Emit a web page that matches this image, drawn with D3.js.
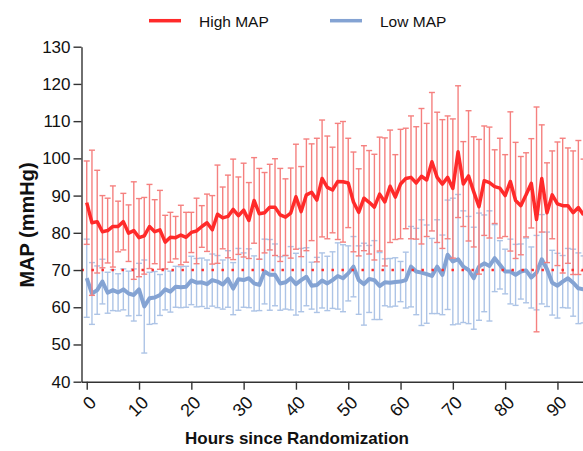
<!DOCTYPE html>
<html><head><meta charset="utf-8">
<script src="https://cdn.jsdelivr.net/npm/d3@7/dist/d3.min.js"></script>
<style>body{margin:0;background:#fff}svg{display:block;font-family:"Liberation Sans",Arial,sans-serif}</style>
</head><body><svg id="c" width="583" height="451"></svg>
<script>
const hours = d3.range(0, 96);
const xTicks = [0,10,20,30,40,50,60,70,80,90];
const yTicks = [40,50,60,70,80,90,100,110,120,130];
const seriesNames = ["High MAP","Low MAP"];
const targetMAP = 70;
const redMean = [88.1,82.7,83.0,80.3,80.6,81.7,81.7,83.0,79.9,80.6,78.7,79.2,81.7,80.3,80.8,77.5,78.8,78.7,79.4,78.8,
80.1,80.5,81.7,82.7,80.8,85.0,84.0,84.4,86.3,84.6,86.1,83.3,88.7,85.1,85.4,86.9,86.9,84.8,84.2,85.3,
89.7,85.7,90.2,90.9,88.8,94.6,92.2,91.5,93.8,93.7,93.4,88.3,85.5,89.3,88.2,86.9,90.4,88.3,92.5,89.6,
93.1,94.6,94.9,93.4,95.2,94.2,99.1,94.9,93.1,94.9,91.9,101.8,93.1,95.3,91.0,87.0,94.0,93.5,92.4,92.0,
90.0,93.8,88.7,87.3,90.2,93.3,83.6,94.6,85.4,90.2,87.8,87.3,87.3,85.4,86.8,84.8];
const redSD = [11.2,19.5,13.8,9.7,8.7,10.9,6.8,7.6,7.6,13.1,10.5,10.3,11.3,8.6,10.6,7.2,6.7,5.7,8.0,6.7,
5.4,8.8,5.6,7.7,9.2,13.2,8.3,11.1,13.5,10.4,12.6,10.2,11.5,12.2,10.8,11.5,13.0,12.5,10.3,12.1,
14.1,12.1,15.0,13.0,16.6,15.7,13.8,11.5,15.6,16.2,12.0,13.4,11.7,14.1,13.9,14.2,15.3,17.2,15.1,11.4,
14.7,13.5,16.5,15.1,18.2,15.2,18.6,17.5,17.3,16.5,18.7,17.7,11.4,17.5,14.8,18.1,14.7,14.9,9.9,13.4,
11.0,18.7,15.6,13.2,11.3,12.0,30.2,14.4,13.4,11.8,16.6,18.1,15.5,16.6,18.0,15.0];
const blueMean = [67.8,63.7,64.6,66.9,63.9,64.6,64.0,64.8,63.7,63.3,64.8,60.2,62.4,62.6,63.3,64.8,64.2,65.5,65.4,65.5,
67.2,66.6,66.7,66.2,67.3,66.9,66.1,67.6,65.0,67.5,67.3,67.8,66.4,66.0,69.6,68.7,68.7,66.4,66.7,67.8,
66.2,67.3,68.2,65.8,66.0,67.2,66.4,67.3,68.4,67.8,69.1,70.9,67.3,66.2,67.6,67.3,65.7,66.7,66.6,66.8,
66.9,67.3,70.9,69.6,69.3,68.9,68.4,70.9,68.7,74.1,72.3,72.9,70.9,70.0,67.8,70.9,71.8,71.1,73.2,71.4,
69.6,69.6,68.7,69.6,69.9,68.0,69.3,72.9,70.2,66.6,65.8,66.9,67.8,66.6,65.1,64.8];
const blueSD = [10.5,8.3,6.5,6.0,5.5,5.5,5.0,5.5,6.0,7.0,7.0,12.5,7.0,7.0,5.5,5.5,5.5,5.5,5.5,5.5,
6.5,6.5,6.5,6.5,7.0,7.0,6.6,7.6,7.0,8.3,7.3,7.9,7.4,6.9,8.7,9.5,8.3,7.2,7.2,8.5,
8.3,8.5,7.8,6.3,7.4,7.4,7.3,7.6,8.9,9.0,7.4,8.1,9.2,11.0,9.0,10.6,9.0,6.3,6.5,6.5,
5.4,7.5,10.8,11.6,14.2,13.2,10.1,12.6,10.7,14.7,17.0,17.4,15.0,14.4,13.7,14.4,13.0,14.8,9.0,6.5,
6.0,8.7,8.2,7.4,8.7,8.2,10.0,12.0,10.0,8.7,8.7,7.0,8.0,9.0,9.5,9.0];

const RED = "#ff2a2a", RED_BAR = "#f5807f", BLUE = "#84a3d3", BLUE_BAR = "#adc4e6", AXIS = "#333";
const svg = d3.select("#c");
const x = d3.scaleLinear().domain([-1, 95]).range([81.5, 583.6]);
const y = d3.scaleLinear().domain([40, 130]).range([381.7, 46.7]);

function errorBars(mean, sd, color) {
  const g = svg.append("g").attr("stroke", color).attr("stroke-width", 1.4).attr("fill", "none");
  hours.forEach(h => {
    const lo = mean[h] - sd[h], hi = mean[h] + sd[h], cx = x(h);
    g.append("line").attr("x1", cx).attr("x2", cx).attr("y1", y(lo)).attr("y2", y(hi));
    g.append("line").attr("x1", cx - 3).attr("x2", cx + 3).attr("y1", y(hi)).attr("y2", y(hi));
    g.append("line").attr("x1", cx - 3).attr("x2", cx + 3).attr("y1", y(lo)).attr("y2", y(lo));
  });
}
const line = arr => d3.line().x(h => x(h)).y(h => y(arr[h]))(hours);

errorBars(blueMean, blueSD, BLUE_BAR);
svg.append("path").attr("d", line(blueMean)).attr("fill", "none").attr("stroke", BLUE).attr("stroke-width", 4).attr("stroke-linejoin", "round");
errorBars(redMean, redSD, RED_BAR);
svg.append("path").attr("d", line(redMean)).attr("fill", "none").attr("stroke", RED).attr("stroke-width", 3.5).attr("stroke-linejoin", "round");
svg.append("line").attr("x1", x(-1)).attr("x2", 583).attr("y1", y(targetMAP)).attr("y2", y(targetMAP))
  .attr("stroke", RED).attr("stroke-width", 2.6).attr("stroke-dasharray", "2.4,7.6");

// axes
const xAxis = svg.append("g").attr("transform", `translate(0,${y(40)})`)
  .call(d3.axisBottom(x).tickValues(xTicks).tickSize(8).tickSizeOuter(0).tickPadding(6));
xAxis.selectAll("text").style("font-size", "18px").attr("fill", "#111")
  .attr("text-anchor", "end").attr("x", 0).attr("y", 0).attr("dy", 0)
  .attr("transform", "translate(10,22) rotate(-45)");
const yAxis = svg.append("g").attr("transform", `translate(${x(-1)},0)`)
  .call(d3.axisLeft(y).tickValues(yTicks).tickSize(8).tickSizeOuter(0).tickPadding(3));
yAxis.selectAll("text").style("font-size", "17px").attr("fill", "#111");
[xAxis, yAxis].forEach(a => { a.selectAll("path,line").attr("stroke", AXIS).attr("stroke-width", 1.4); a.attr("font-family", null); });

svg.append("text").attr("x", 297).attr("y", 444).attr("text-anchor", "middle")
  .attr("font-size", 17).attr("font-weight", "bold").attr("fill", "#111").text("Hours since Randomization");
svg.append("text").attr("transform", "translate(34,225) rotate(-90)").attr("text-anchor", "middle")
  .attr("font-size", 20).attr("font-weight", "bold").attr("fill", "#111").text("MAP (mmHg)");

// legend
const legend = [{name: seriesNames[0], color: RED, x: 149}, {name: seriesNames[1], color: BLUE, x: 330}];
legend.forEach(l => {
  svg.append("line").attr("x1", l.x).attr("x2", l.x + 32).attr("y1", 20.7).attr("y2", 20.7).attr("stroke", l.color).attr("stroke-width", 3.5);
  svg.append("text").attr("x", l.x + 50).attr("y", 26.5).attr("font-size", 15.5).attr("fill", "#111").text(l.name);
});
</script></body></html>
